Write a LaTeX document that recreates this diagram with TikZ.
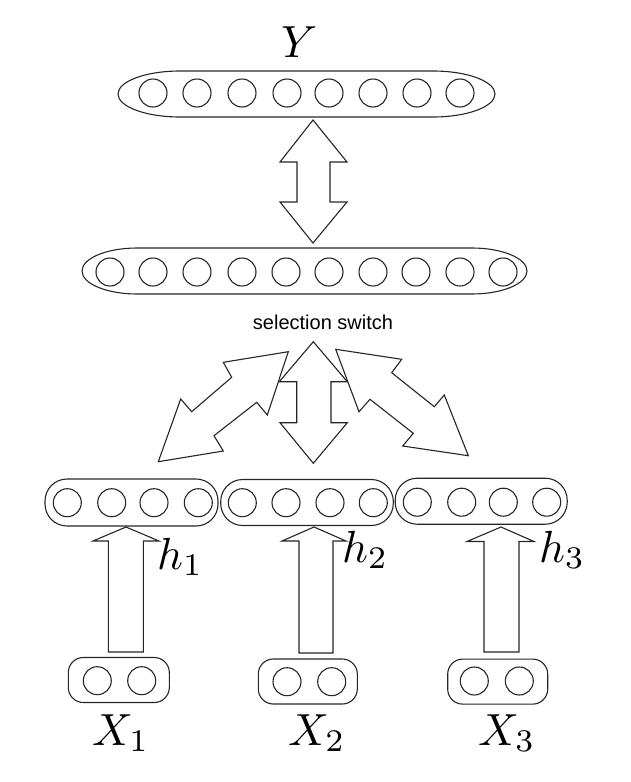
\documentclass[tikz,border=0pt]{standalone}
\usepackage{graphicx}
\usepackage{fontspec}
\newfontfamily\labelsans{Liberation Sans}
\usetikzlibrary{shapes.geometric}
\newcommand{\bigmath}[1]{\scalebox{4.5}{$#1$}}
% flattened ellipse: #1 left x, #2 right x, #3 centre y, #4 end x-radius, #5 half height
\newcommand{\flatlayer}[5]{%
  \draw[ink] (#1,#3) arc[start angle=180, end angle=270, x radius=#4, y radius=#5]
    -- ({#2-#4},{#3-#5}) arc[start angle=270, end angle=450, x radius=#4, y radius=#5]
    -- ({#1+#4},{#3+#5}) arc[start angle=90, end angle=180, x radius=#4, y radius=#5] -- cycle;}
\tikzset{
  ink/.style={draw=black!85, line width=1.1pt},
  neuron/.style={ink, circle, minimum size=28pt, inner sep=0pt},
  hbox/.style={ink, rectangle, rounded corners=22pt, minimum width=172pt, minimum height=46pt, inner sep=0pt},
  xbox/.style={ink, rectangle, rounded corners=15pt, minimum width=100pt, minimum height=45pt, inner sep=0pt},
  blockarrow/.style={ink, fill=white, line join=miter},
  mathlbl/.style={inner sep=0pt},
  txtlbl/.style={inner sep=0pt, font=\labelsans\fontsize{20}{20}\selectfont}
}
\begin{document}
\begin{tikzpicture}[x=1pt, y=-1pt]
\useasboundingbox (0,0) rectangle (630,782);

% output layer Y
\flatlayer{118}{495}{94}{62}{23}
\coordinate (ylayer) at (306.5,94);
\foreach \x [count=\i] in {153,197,242,287,329,373,417,460}
  \node[neuron] (y\i) at (\x,93) {};
\node[mathlbl, anchor=base west] (ylabel) at (281,57) {\bigmath{Y}};

% combined layer
\flatlayer{82}{527}{271}{55}{23}
\coordinate (clayer) at (304.5,271);
\foreach \x [count=\i] in {110,153,197,242,286,329,373,416,460,503}
  \node[neuron] (c\i) at (\x,272) {};

% top double arrow
\draw[blockarrow] (313,120) -- (347,162) -- (330,162) -- (330,202) -- (347,202)
  -- (313,243) -- (280,202) -- (297,202) -- (297,162) -- (280,162) -- cycle;

\node[txtlbl, anchor=base] (sel) at (323,329.5) {selection switch};

% central double arrow
\draw[blockarrow] (313.3,341.7) -- (347.3,381.7) -- (331,381.7) -- (331,422.7) -- (347.3,422.7)
  -- (313.3,463.3) -- (280,422.7) -- (296.7,422.7) -- (296.7,381.7) -- (279.3,381.7) -- cycle;
% left diagonal double arrow
\draw[blockarrow] (288.3,351.7) -- (223.3,362.3) -- (231.7,377.3) -- (191.7,411.7) -- (180.7,399)
  -- (158.3,461.7) -- (223.3,451) -- (214,435.7) -- (256.7,402.3) -- (267.3,415) -- cycle;
% right diagonal double arrow
\draw[blockarrow] (335.7,349.3) -- (401.7,359.3) -- (391.7,372.7) -- (434.3,406.7) -- (444.3,395)
  -- (468.3,455.7) -- (402.7,446) -- (413.3,433.3) -- (370,399.3) -- (359,411.7) -- cycle;

% hidden layers
\node[hbox, minimum width=173pt, minimum height=47pt] (hb1) at (131.5,502.5) {};
\foreach \x [count=\i] in {67.3,111.7,154,198.3}
  \node[neuron] (h1n\i) at (\x,502.7) {};
\node[hbox, minimum width=172.6pt] (hb2) at (307,502.5) {};
\foreach \x [count=\i] in {242.3,286,330,373.3}
  \node[neuron] (h2n\i) at (\x,502.7) {};
\node[hbox, minimum width=172pt] (hb3) at (481.2,501.2) {};
\foreach \x [count=\i] in {417.3,461.7,503.3,546.7}
  \node[neuron] (h3n\i) at (\x,502.2) {};

% up arrows
\draw[blockarrow] (126,527) -- (159,541) -- (143.3,541) -- (143.3,652) -- (108.3,652) -- (108.3,541) -- (93,541) -- cycle;
\draw[blockarrow] (314,527) -- (346,541) -- (333,541) -- (333,653) -- (299,653) -- (299,541) -- (282,541) -- cycle;
\draw[blockarrow] (501,527) -- (534,541.5) -- (519,541.5) -- (519,652) -- (484,652) -- (484,541.5) -- (467,541.5) -- cycle;

\node[mathlbl, anchor=base west] (h1lbl) at (157,569) {\bigmath{h_1}};
\node[mathlbl, anchor=base west] (h2lbl) at (342,562) {\bigmath{h_2}};
\node[mathlbl, anchor=base west] (h3lbl) at (539,562) {\bigmath{h_3}};

% input layers
\node[xbox, minimum width=101pt] (xb1) at (118.8,680) {};
\node[neuron] (x1a) at (97.3,680.7) {};
\node[neuron] (x1b) at (141.7,680.7) {};
\node[xbox, minimum width=99pt] (xb2) at (307.8,681.5) {};
\node[neuron] (x2a) at (287,681.7) {};
\node[neuron] (x2b) at (331.7,681.7) {};
\node[xbox, minimum width=100pt] (xb3) at (497.7,681.6) {};
\node[neuron] (x3a) at (474.3,681) {};
\node[neuron] (x3b) at (519.3,681) {};

\node[mathlbl, anchor=base west] (x1lbl) at (92,745) {\bigmath{X_1}};
\node[mathlbl, anchor=base west] (x2lbl) at (288,745) {\bigmath{X_2}};
\node[mathlbl, anchor=base west] (x3lbl) at (478,745) {\bigmath{X_3}};
\end{tikzpicture}
\end{document}
